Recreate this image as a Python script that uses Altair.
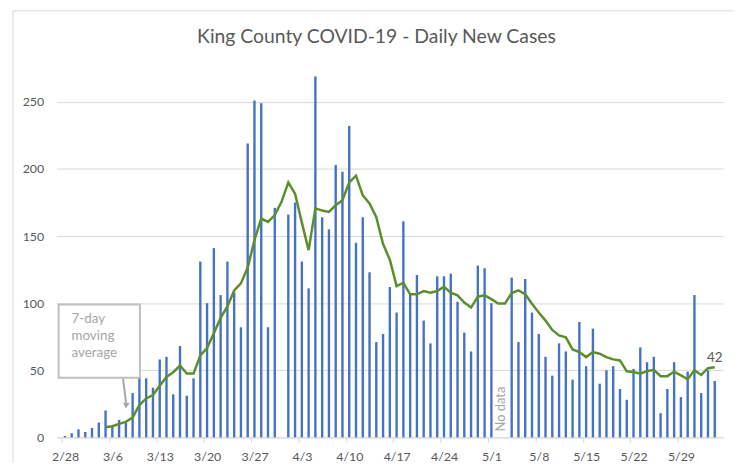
import altair as alt
import pandas as pd

# ---------------- data ----------------
start_date = "2020-02-28"

cases = [1, 3, 6, 4, 7, 11, 20, 8, 13, 12, 33, 44, 44, 37, 58, 60, 32, 68, 31, 44,
         131, 100, 141, 106, 131, 108, 82, 219, 251, 249, 82, 171, None, 166, 175, 131, 111, 269, 164, 155,
         203, 198, 232, 145, 164, 123, 71, 77, 112, 93, 161, 107, 121, 87, 70, 120, 120, 122, 101, 78,
         64, 128, 126, 100, None, None, 119, 71, 118, 93, 77, 60, 46, 70, 64, 43, 86, 53, 81, 40,
         50, 53, 36, 28, 51, 67, 56, 60, 18, 36, 56, 30, 49, 106, 33, 50, 42]

avg7 = [None] * 6 + [
    7.5, 8.3, 10, 11.5, 14.8, 24, 29, 31.5, 38.5, 45, 48.5, 53.5, 47.5, 47.5,
    61, 66.5, 77.5, 89, 97.5, 109.5, 114.7, 126.5, 147, 163, 160.5, 165.6, 175.5, 190, 181.5, 160,
    139.5, 170.6, 169, 168,
    173, 176.7, 190, 195, 180.4, 174.3, 164, 144, 132.4, 112.7, 115.2, 106.6, 106.6, 109, 107.8, 109,
    112.2, 107.8, 105.8, 100.4,
    96.7, 104.8, 105.8, 103, 99.7, 99.7, 107.5, 109.5, 106.6, 99.5, 93, 87, 80, 76, 74.5, 65.5,
    63.5, 59.8, 63.5, 62.3,
    59.8, 58.1, 57.3, 49.2, 48.7, 47.5, 49.3, 50.3, 45.6, 45.6, 49, 46.2, 43.3, 50, 46.5, 51.5, 52.2,
]

tick_labels = ["2/28", "3/6", "3/13", "3/20", "3/27", "4/3", "4/10", "4/17",
               "4/24", "5/1", "5/8", "5/15", "5/22", "5/29"]
y_ticks = [0, 50, 100, 150, 200, 250]

title_text = "King County COVID-19 - Daily New Cases"
note_lines = ["7-day", "moving", "average"]
no_data_text = "No data"

# ---------------- table ----------------
dates = pd.date_range(start_date, periods=len(cases), freq="D") + pd.Timedelta(hours=12)
df = pd.DataFrame({
    "date": dates.strftime("%Y-%m-%dT%H:%M:%S"),
    "cases": cases,
    "avg": avg7,
})
last_df = df.tail(1)

tick_dt = [alt.DateTime(year=2020, month=int(m), date=int(d))
           for m, d in (s.split("/") for s in tick_labels)]

FONT = "Lato"
TXT = "#595959"
GRID = "#d9d9d9"
BLUE = "#4472C4"
GREEN = "#5B8F2E"
NOTE = "#a6a6a6"

x_scale = alt.Scale(domain=[alt.DateTime(year=2020, month=2, date=28),
                            alt.DateTime(year=2020, month=6, date=4)])
y_scale = alt.Scale(domain=[0, 272], nice=False)

x_axis = alt.Axis(values=tick_dt, format="%-m/%-d", title=None, labelOffset=3.5,
                  labelFlush=False, labelOverlap=False, grid=False,
                  domainColor=GRID, tickColor=GRID, tickSize=5, labelPadding=8,
                  labelColor=TXT, labelFontSize=12.5, labelFont=FONT)
y_axis = alt.Axis(values=y_ticks, title=None, domain=False, ticks=False, grid=True,
                  gridColor=GRID, labelPadding=13, labelColor=TXT,
                  labelFontSize=12.5, labelFont=FONT)

one = alt.Data(values=[{}])

border = alt.Chart(one).mark_rect(fill="transparent", stroke=GRID, strokeWidth=1).encode(
    x=alt.value(-44), x2=alt.value(720), y=alt.value(-62), y2=alt.value(420))

title = alt.Chart(one).mark_text(
    text=title_text, align="center", baseline="alphabetic",
    font=FONT, fontSize=19.5, color=TXT,
).encode(x=alt.value(322.5), y=alt.value(-29.5))

bars = alt.Chart(df).mark_bar(size=2.4, color=BLUE).encode(
    x=alt.X("date:T", scale=x_scale, axis=x_axis),
    y=alt.Y("cases:Q", scale=y_scale, axis=y_axis),
)

line = alt.Chart(df).mark_line(color=GREEN, strokeWidth=2.5).encode(
    x=alt.X("date:T", scale=x_scale),
    y=alt.Y("avg:Q", scale=y_scale),
)

no_data = alt.Chart(one).mark_text(
    text=no_data_text, angle=270, align="left", baseline="middle",
    font=FONT, fontSize=13, color=NOTE,
).encode(x=alt.datum(alt.DateTime(year=2020, month=5, date=3)), y=alt.value(362))

last_label = alt.Chart(last_df).mark_text(
    dy=-9, baseline="middle", font=FONT, fontSize=13.5, color=TXT,
).encode(x=alt.X("date:T", scale=x_scale), y=alt.Y("avg:Q", scale=y_scale),
         text=alt.Text("cases:Q", format="d"))

note_box = alt.Chart(one).mark_rect(fill="white", stroke="#bfbfbf", strokeWidth=2).encode(
    x=alt.value(2), x2=alt.value(84), y=alt.value(234), y2=alt.value(308))

note_text = alt.Chart(one).mark_text(
    text=note_lines, align="left", baseline="top", lineHeight=17,
    font=FONT, fontSize=13.5, color=NOTE,
).encode(x=alt.value(15), y=alt.value(242))

arrow = alt.Chart(one).mark_rule(color=NOTE, strokeWidth=2).encode(
    x=alt.value(67), x2=alt.value(70), y=alt.value(309), y2=alt.value(333))

arrow_head = alt.Chart(one).mark_point(
    shape="triangle-down", filled=True, color=NOTE, size=45, opacity=1, angle=6,
).encode(x=alt.value(70), y=alt.value(336))

chart = alt.layer(
    border, title, bars, line, no_data, last_label, note_box, note_text, arrow, arrow_head
).properties(
    width=672, height=368,
    autosize=alt.AutoSizeParams(type="none"),
    padding={"left": 49, "top": 63, "right": 10, "bottom": 24},
).configure_view(stroke=None)

chart.save("out.html", embed_options={"renderer": "svg", "actions": False})
